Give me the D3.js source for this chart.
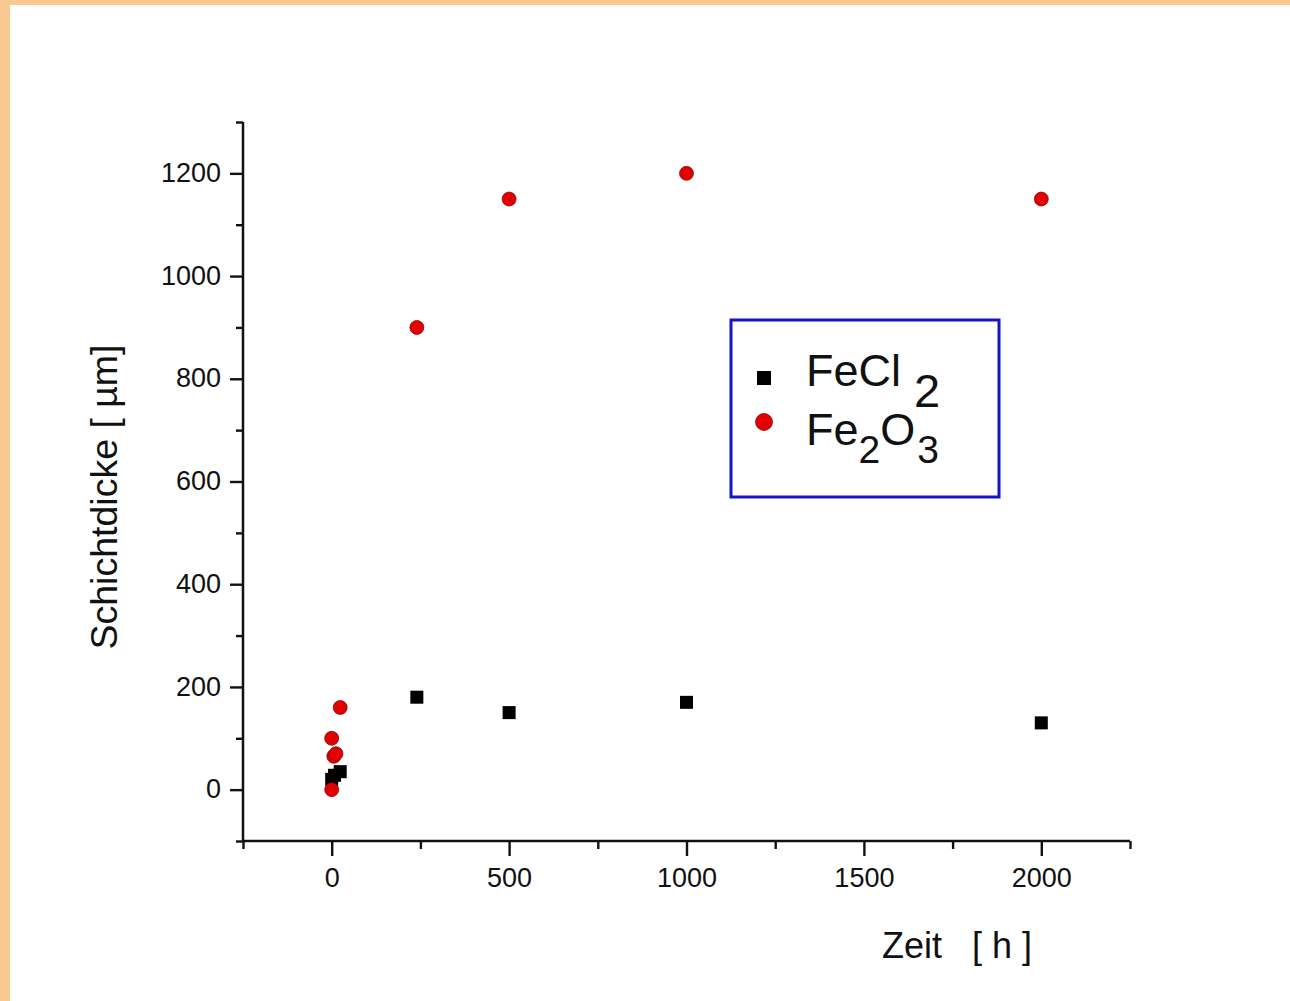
<!DOCTYPE html>
<html><head><meta charset="utf-8">
<script src="https://cdn.jsdelivr.net/npm/d3@7"></script>
<style>
html,body{margin:0;padding:0;background:#fff;}
svg{display:block;}
text{font-family:"Liberation Sans",Arial,sans-serif;fill:#111;}
</style></head>
<body>
<script>
// Data (hours, µm)
const fecl2Time = [0, 8, 24, 240, 500, 1000, 2000];
const fecl2Thick = [20, 28, 35, 180, 150, 170, 130];
const fe2o3Time = [0, 0, 6, 12, 24, 240, 500, 1000, 2000];
const fe2o3Thick = [0, 100, 65, 70, 160, 900, 1150, 1200, 1150];
const xMajorTicks = [0, 500, 1000, 1500, 2000];
const xMinorTicks = [-250, 250, 750, 1250, 1750, 2250];
const yMajorTicks = [0, 200, 400, 600, 800, 1000, 1200];
const yMinorTicks = [-100, 100, 300, 500, 700, 900, 1100, 1300];

const W = 1290, H = 1001;
const svg = d3.select("body").append("svg").attr("width", W).attr("height", H);

// page frame
svg.append("rect").attr("x",0).attr("y",0).attr("width",W).attr("height",H).attr("fill","#fac891");
svg.append("rect").attr("x",10).attr("y",5).attr("width",W-10).attr("height",H-5).attr("fill","#fff");

const x = d3.scaleLinear().domain([-250, 2250]).range([243, 1130]);
const y = d3.scaleLinear().domain([-100, 1300]).range([841, 122]);

// axes
const axW = 2.5;
const gx = svg.append("g").attr("transform", `translate(0,${y(-100)})`)
  .call(d3.axisBottom(x).tickValues(xMinorTicks).tickSize(8).tickFormat(""));
const gx2 = svg.append("g").attr("transform", `translate(0,${y(-100)})`)
  .call(d3.axisBottom(x).tickValues(xMajorTicks).tickSize(15).tickPadding(12).tickFormat(d3.format("d")));
const gy = svg.append("g").attr("transform", `translate(${x(-250)},0)`)
  .call(d3.axisLeft(y).tickValues(yMinorTicks).tickSize(7).tickFormat(""));
const gy2 = svg.append("g").attr("transform", `translate(${x(-250)},0)`)
  .call(d3.axisLeft(y).tickValues(yMajorTicks).tickSize(13).tickPadding(9).tickFormat(d3.format("d")));

[gx, gx2, gy, gy2].forEach(g => {
  g.selectAll(".domain").remove();
  g.selectAll(".tick line").attr("stroke","#111").attr("stroke-width",2.4);
  g.selectAll("text").style("font-family","'Liberation Sans',Arial,sans-serif").style("font-size","27px").attr("fill","#111");
});
svg.append("line").attr("x1",x(-250)).attr("x2",x(2250)).attr("y1",y(-100)).attr("y2",y(-100))
  .attr("stroke","#111").attr("stroke-width",axW);
svg.append("line").attr("x1",x(-250)).attr("x2",x(-250)).attr("y1",y(-100)).attr("y2",y(1300))
  .attr("stroke","#111").attr("stroke-width",axW);
gx2.selectAll("text").attr("dy","0.71em");
gy2.selectAll("text").attr("dy","0.3em");

// axis titles
svg.append("text").attr("x", 957).attr("y", 958).attr("text-anchor","middle")
  .style("font-size","36px").style("white-space","pre").text("Zeit   [ h ]");
svg.append("text").attr("transform","translate(117,497) rotate(-90)").attr("text-anchor","middle")
  .style("font-size","37.5px").style("white-space","pre").text("Schichtdicke [ µm]");

// data
const sq = 13;
svg.append("g").selectAll("rect").data(fecl2Time.map((t,i)=>[t,fecl2Thick[i]])).join("rect")
  .attr("x", d => x(d[0]) - sq/2).attr("y", d => y(d[1]) - sq/2)
  .attr("width", sq).attr("height", sq).attr("fill","#000");
svg.append("g").selectAll("circle").data(fe2o3Time.map((t,i)=>[t,fe2o3Thick[i]])).join("circle")
  .attr("cx", d => x(d[0])).attr("cy", d => y(d[1])).attr("r", 7)
  .attr("fill","#e30000").attr("stroke","#7a0000").attr("stroke-width",0.7);

// legend
const lg = svg.append("g");
lg.append("rect").attr("x",731).attr("y",320).attr("width",268).attr("height",177)
  .attr("fill","#fff").attr("stroke","#1414c8").attr("stroke-width",3);
lg.append("rect").attr("x",757).attr("y",371).attr("width",14).attr("height",14).attr("fill","#000");
lg.append("circle").attr("cx",764).attr("cy",422).attr("r",8.5).attr("fill","#e30000").attr("stroke","#7a0000").attr("stroke-width",0.7);
const t1 = lg.append("text").attr("x",806).attr("y",386).style("font-size","45px");
t1.append("tspan").text("FeCl");
t1.append("tspan").attr("x",914).attr("y",407).style("font-size","47px").text("2");
const t2 = lg.append("text").attr("x",806).attr("y",445).style("font-size","45px");
t2.append("tspan").text("Fe");
t2.append("tspan").attr("y",463).style("font-size","39px").text("2");
t2.append("tspan").attr("y",445).style("font-size","45px").text("O");
t2.append("tspan").attr("dx",2).attr("y",463).style("font-size","39px").text("3");
</script>
</body></html>
